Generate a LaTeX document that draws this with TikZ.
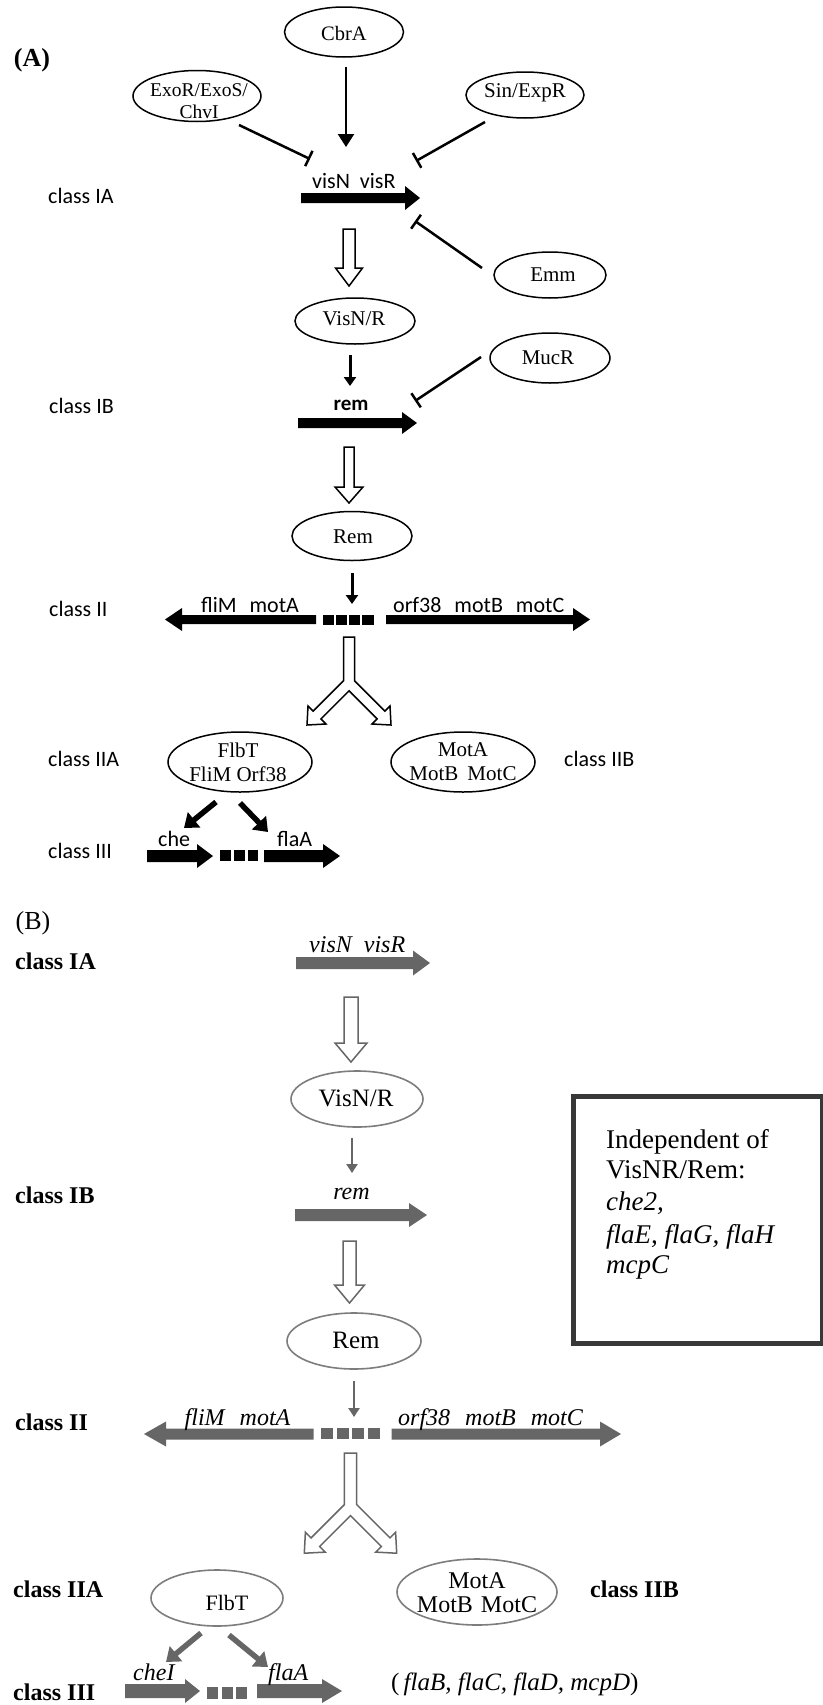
\documentclass[tikz,border=0pt]{standalone}
\usepackage{fontspec}
\setmainfont{Liberation Serif}
\newfontfamily\sansA{Carlito}
\usetikzlibrary{shapes.geometric,arrows.meta}
\definecolor{gB}{RGB}{102,102,102}
\definecolor{gE}{RGB}{125,125,125}
\definecolor{boxc}{RGB}{56,56,56}
% gene arrow: colour, x1, x2, y, body half, head half, head length (signed)
\newcommand\gene[7]{\fill[#1] (#2,{#4-(#5)}) -- ({#3-(#7)},{#4-(#5)}) -- ({#3-(#7)},{#4-(#6)}) -- (#3,#4) -- ({#3-(#7)},{#4+(#6)}) -- ({#3-(#7)},{#4+(#5)}) -- (#2,{#4+(#5)}) -- cycle;}
% hollow down arrow: colour, cx, top, head start, tip, shaft half, head half
\newcommand\hollowdown[7]{\draw[#1, line width=1.5pt, fill=white] ({#2-(#6)},#3) -- ({#2+(#6)},#3) -- ({#2+(#6)},#4) -- ({#2+(#7)},#4) -- (#2,#5) -- ({#2-(#7)},#4) -- ({#2-(#6)},#4) -- cycle;}
% forked hollow arrow: colour, cx, cy, scale, local top
\newcommand\yarrow[5]{\begin{scope}[shift={(#2,#3)}, scale=#4]
\draw[#1, line width=1.5pt, fill=white] (-5.5,#5) -- (5.5,#5) -- (5.5,-2.3) -- (35.9,28.1) -- (41,23) -- (42,42) -- (23,41) -- (28.1,35.9) -- (0,7.8) -- (-28.1,35.9) -- (-23,41) -- (-42,42) -- (-41,23) -- (-35.9,28.1) -- (-5.5,-2.3) -- cycle;
\end{scope}}
\tikzset{
  clsA/.style={font=\sansA\fontsize{22}{26}\selectfont, inner sep=0pt, anchor=base west},
  geneA/.style={font=\sansA\fontsize{22}{26}\selectfont, inner sep=0pt, anchor=base west},
  clsB/.style={font=\bfseries\fontsize{24}{28}\selectfont, inner sep=0pt, anchor=base west},
  itB/.style={font=\itshape\fontsize{24}{28}\selectfont, inner sep=0pt, anchor=base west},
  ovA/.style={draw=black, ellipse, line width=1.5pt, inner sep=0pt},
  ovB/.style={draw=gE, ellipse, line width=1.6pt, inner sep=0pt},
  serA/.style={font=\fontsize{21}{24}\selectfont, inner sep=0pt, align=center},
  serB/.style={font=\fontsize{25}{24}\selectfont, inner sep=0pt, align=center},
  actA/.style={draw=black, line width=2.5pt, -{Triangle[length=13pt,width=16pt]}},
  actS/.style={line width=3pt, -{Triangle[length=9pt,width=12pt]}},
  inh/.style={draw=black, line width=2.5pt, -{Bar[width=17pt,line width=2.5pt]}},
  thick5/.style={line width=5.5pt, -{Triangle[length=13pt,width=19pt]}},
  boxtext/.style={font=\fontsize{27}{31}\selectfont, inner sep=0pt, anchor=base west}
}
\begin{document}
\begin{tikzpicture}[x=1pt,y=-1pt]
\useasboundingbox (0,0) rectangle (822,1705);
\fill[white] (0,0) rectangle (822,1705);

% ================= (A) =================
\node[font=\bfseries\fontsize{26}{28}\selectfont, inner sep=0pt] (labA) at (32,60) {(A)};
\node[clsA] (cIA) at (48,203) {class IA};
\node[clsA] (cIB) at (49,413) {class IB};
\node[clsA] (cII) at (49,616) {class II};
\node[clsA] (cIIA) at (48,766) {class IIA};
\node[clsA] (cIIB) at (564,766) {class IIB};
\node[clsA] (cIII) at (48,858) {class III};

% ellipses
\node[ovA, minimum width=119pt, minimum height=50pt] (cbra) at (344,32) {};
\node[serA, font=\fontsize{20.5}{23}\selectfont] (cbraT) at (344,33) {CbrA};
\node[ovA, minimum width=128pt, minimum height=51pt] (exor) at (197,96) {};
\node[serA, font=\fontsize{19.5}{22}\selectfont] (exorT) at (199,101) {ExoR/ExoS/\\ChvI};
\node[ovA, minimum width=118pt, minimum height=46pt] (sin) at (525,95) {};
\node[serA] (sinT) at (525,93) {Sin/ExpR};
\node[ovA, minimum width=112pt, minimum height=46pt] (emm) at (550,275) {};
\node[serA] (emmT) at (553,275) {Emm};
\node[ovA, minimum width=120pt, minimum height=46pt] (visnr) at (355,321) {};
\node[serA] (visnrT) at (354,319) {VisN/R};
\node[ovA, minimum width=120pt, minimum height=50pt] (mucr) at (550,358) {};
\node[serA] (mucrT) at (548,358) {MucR};
\node[ovA, minimum width=120pt, minimum height=49pt] (remA) at (352,536) {};
\node[serA] (remAT) at (353,537) {Rem};
\node[ovA, minimum width=144pt, minimum height=60pt] (flbt) at (240,762) {};
\node[serA] (flbtT) at (238,762) {FlbT\\FliM Orf38};
\node[ovA, minimum width=144pt, minimum height=60pt] (mota) at (463,762) {};
\node[serA] (motaT) at (463,762) {MotA\\MotB\hspace{9pt}MotC};

% genes
\gene{black}{301}{420}{198}{5}{12}{15}
\node[geneA] (visA) at (312,188) {visN\hspace{10pt}visR};
\gene{black}{298}{417}{423}{5}{11}{15}
\node[font=\sansA\bfseries\fontsize{21}{24}\selectfont, inner sep=0pt, anchor=base] (remgA) at (351,410) {rem};
\gene{black}{316}{165}{619.5}{4.5}{11.5}{-17}
\fill[black] (323,614.5) rectangle (334,624.5);
\fill[black] (336,614.5) rectangle (347,624.5);
\fill[black] (349,614.5) rectangle (360,624.5);
\fill[black] (362,614.5) rectangle (374,624.5);
\gene{black}{386}{590}{619.5}{4.5}{11.5}{17}
\node[geneA] (fliA) at (201,612) {fliM\hspace{13pt}motA};
\node[geneA] (orfA) at (393,612) {orf38\hspace{13pt}motB\hspace{13pt}motC};
\gene{black}{147}{213}{856}{6}{12}{16}
\fill[black] (220,850) rectangle (231,861);
\fill[black] (234,850) rectangle (245,861);
\fill[black] (248,850) rectangle (258,861);
\gene{black}{264}{340}{856}{6}{12}{17}
\node[geneA] (cheA) at (158,846) {che};
\node[geneA] (flaAA) at (277,846) {flaA};

% connectors A
\coordinate (a1s) at (346,67); \coordinate (a1e) at (346,147);
\draw[actA] (a1s) -- (a1e);
\coordinate (i1s) at (239,125); \coordinate (i1e) at (310,159);
\draw[inh] (i1s) -- (i1e);
\coordinate (i2s) at (485,122); \coordinate (i2e) at (416,161);
\draw[inh] (i2s) -- (i2e);
\coordinate (i3s) at (482,268); \coordinate (i3e) at (415,221);
\draw[inh] (i3s) -- (i3e);
\coordinate (i4s) at (481,357); \coordinate (i4e) at (415,401);
\draw[inh] (i4s) -- (i4e);
\coordinate (a2s) at (350,355); \coordinate (a2e) at (350,386);
\draw[actS, black] (a2s) -- (a2e);
\coordinate (a3s) at (352,573); \coordinate (a3e) at (352,604);
\draw[actS, black] (a3s) -- (a3e);
\coordinate (a4s) at (216,802); \coordinate (a4e) at (184,828);
\draw[thick5, black] (a4s) -- (a4e);
\coordinate (a5s) at (240,803); \coordinate (a5e) at (268,832);
\draw[thick5, black] (a5s) -- (a5e);

\hollowdown{black}{349}{229}{268}{286}{6}{13.5}
\hollowdown{black}{349}{447}{487}{503}{5}{14}
\yarrow{black}{349}{683}{1}{-46}

% ================= (B) =================
\node[font=\fontsize{26}{28}\selectfont, inner sep=0pt] (labB) at (33,923) {(B)};
\node[clsB] (bIA) at (15,969) {class IA};
\node[clsB] (bIB) at (15,1203) {class IB};
\node[clsB] (bII) at (15,1430) {class II};
\node[clsB] (bIIA) at (13,1597) {class IIA};
\node[clsB] (bIIB) at (590,1597) {class IIB};
\node[clsB] (bIII) at (13,1700) {class III};

\gene{gB}{296}{430}{963}{6}{12.5}{17}
\node[itB] (visB) at (309,952) {visN\hspace{12pt}visR};
\hollowdown{gB}{351}{997}{1043}{1062}{7}{16}
\node[ovB, minimum width=132pt, minimum height=56pt] (visnrB) at (357,1099) {};
\node[serB] (visnrBT) at (356,1098) {VisN/R};
\coordinate (b1s) at (352,1138); \coordinate (b1e) at (352,1173);
\draw[gB, line width=2.5pt, -{Triangle[length=9pt,width=11pt]}] (b1s) -- (b1e);
\gene{gB}{295}{427}{1215}{6}{12}{18}
\node[itB, anchor=base] (remgB) at (351.5,1199) {rem};
\hollowdown{gB}{349.5}{1241}{1285}{1303}{6.5}{15}
\node[ovB, minimum width=134pt, minimum height=56pt] (remB) at (354,1341) {};
\node[serB] (remBT) at (356,1340) {Rem};
\coordinate (b2s) at (354,1381); \coordinate (b2e) at (354,1417);
\draw[gB, line width=2.5pt, -{Triangle[length=9pt,width=11pt]}] (b2s) -- (b2e);
\gene{gB}{313.5}{144}{1434}{5.5}{12.5}{-22}
\fill[gB] (321,1428) rectangle (333,1439);
\fill[gB] (336.5,1428) rectangle (348.5,1439);
\fill[gB] (352,1428) rectangle (364,1439);
\fill[gB] (368,1428) rectangle (380,1439);
\gene{gB}{391.5}{621}{1434}{5.5}{12.5}{21}
\node[itB] (fliB) at (184.5,1425) {fliM\hspace{15pt}motA};
\node[itB] (orfB) at (398,1425) {orf38\hspace{15pt}motB\hspace{15pt}motC};
\yarrow{gB}{350.5}{1507}{1.1}{-49}
\node[ovB, minimum width=132pt, minimum height=56pt] (flbtB) at (217,1598) {};
\node[serB, font=\fontsize{22}{24}\selectfont] (flbtBT) at (227,1603) {FlbT};
\node[ovB, minimum width=160pt, minimum height=66pt] (motaB) at (477,1592) {};
\node[serB, font=\fontsize{24}{24}\selectfont] (motaBT) at (477,1593) {MotA\\MotB\hspace{8pt}MotC};
\coordinate (b3s) at (201,1633); \coordinate (b3e) at (166,1662);
\draw[thick5, gB] (b3s) -- (b3e);
\coordinate (b4s) at (229,1635); \coordinate (b4e) at (268,1667);
\draw[thick5, gB] (b4s) -- (b4e);
\gene{gB}{125}{200}{1691}{7}{12}{15}
\fill[gB] (206.7,1687) rectangle (217.7,1699);
\fill[gB] (221.7,1687) rectangle (232.5,1699);
\fill[gB] (236,1687) rectangle (247.3,1699);
\gene{gB}{257}{342}{1691}{7}{12}{20}
\node[itB] (cheB) at (133,1680) {cheI};
\node[itB] (flaAB) at (268,1680) {flaA};
\node[font=\fontsize{25}{28}\selectfont, inner sep=0pt, anchor=base west] (restB) at (391,1690) {(\,\textit{flaB, flaC, flaD, mcpD})};

% box
\node[draw=boxc, line width=5pt, minimum width=249pt, minimum height=247pt, anchor=north west, inner sep=0pt] (indep) at (570.5,1093.5) {};
\node[boxtext] (bx1) at (606,1148) {Independent of};
\node[boxtext] (bx2) at (606,1178) {VisNR/Rem:};
\node[boxtext] (bx3) at (606,1210) {\textit{che2,}};
\node[boxtext] (bx4) at (606,1243) {\textit{flaE, flaG, flaH}};
\node[boxtext] (bx5) at (606,1273) {\textit{mcpC}};
\end{tikzpicture}
\end{document}
